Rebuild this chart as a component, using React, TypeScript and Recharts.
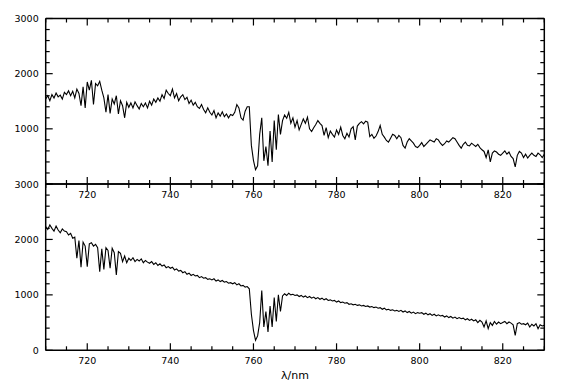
import { LineChart, Line, XAxis, YAxis } from "recharts";

// wavelength grid of the spectra, 0.5 nm steps from 710 to 830 nm
const wavelengths: number[] = Array.from({ length: 241 }, (_, i) => 710 + i * 0.5);

// upper panel flux
const topFlux = [
  1540, 1600, 1510, 1620, 1560, 1650, 1580, 1610, 1540, 1660,
  1620, 1690, 1600, 1680, 1560, 1720, 1640, 1420, 1760, 1380,
  1850, 1700, 1880, 1440, 1820, 1780, 1860, 1700, 1560, 1300,
  1620, 1280, 1540, 1450, 1600, 1270, 1510, 1420, 1200, 1480,
  1390, 1470, 1380, 1490, 1420, 1360, 1460, 1400, 1470, 1380,
  1500, 1430, 1540, 1480, 1560, 1500, 1620, 1550, 1700, 1640,
  1600, 1720, 1560, 1640, 1510, 1580, 1620, 1530, 1570, 1460,
  1520, 1430, 1480, 1400, 1370, 1440, 1350, 1290, 1380, 1300,
  1250, 1330, 1200, 1290, 1230, 1310, 1220, 1270, 1200, 1260,
  1240, 1300, 1440, 1380, 1200, 1160, 1320, 1400, 1400, 700,
  430, 260, 330, 900, 1200, 420, 680, 330, 960, 400,
  1150, 620, 1260, 900, 1150, 1250, 1190, 1300, 1100, 1200,
  1030, 1150, 980, 1080, 1180, 1100, 1210, 1000, 950, 1020,
  1080, 1150, 1100, 1060, 880, 1020, 840, 960, 900, 850,
  980, 900, 1030, 880, 820, 920, 850, 1000, 1040, 800,
  1050, 1100, 1130, 1090, 1140, 1120, 860, 900, 830, 870,
  950, 1060, 900, 850, 790, 760, 830, 900, 880, 820,
  880, 840, 700, 650, 760, 820, 780, 740, 680, 660,
  700, 750, 680, 720, 760, 800, 780, 760, 820, 800,
  740, 700, 730, 780, 760, 800, 840, 820, 760, 700,
  650, 720, 760, 700, 690, 740, 710, 680, 720, 660,
  620, 590, 480, 620, 400, 560, 600, 580, 540, 520,
  560, 600, 540, 580, 500, 460, 310, 520, 590, 560,
  480, 540, 470, 520, 560, 520, 500, 560, 530, 480,
  540,
];

// lower panel flux
const bottomFlux = [
  2230, 2180, 2260, 2200, 2150, 2240, 2170, 2120, 2190, 2150,
  2140, 2080, 2110, 2020, 2040, 1660, 1980, 1500, 1950, 1880,
  1510, 1920, 1940, 1880, 1910, 1850, 1420, 1830, 1460, 1850,
  1800, 1480, 1840, 1760, 1360, 1780, 1750, 1600, 1700, 1580,
  1660, 1620, 1670, 1600, 1640, 1610, 1650, 1580, 1620, 1590,
  1570, 1600, 1550, 1580, 1530, 1560, 1520, 1540, 1490, 1510,
  1480, 1500, 1450, 1470, 1430, 1440, 1400, 1420, 1370, 1390,
  1350, 1370, 1340, 1350, 1310, 1330, 1300, 1310, 1280, 1290,
  1270, 1290, 1250, 1270, 1240, 1260, 1230, 1240, 1210, 1220,
  1200, 1220, 1180, 1200, 1160, 1170, 1140, 1150, 1110, 650,
  360, 180, 260, 500, 1080, 420, 700, 330, 800, 420,
  950, 520, 1000, 700, 980, 1020, 990, 1030, 1000, 1010,
  990, 1000, 970, 990, 960, 980, 950, 970, 940, 960,
  930, 950, 920, 940, 910, 930, 900, 910, 890, 900,
  870, 890, 860, 870, 850, 860, 830, 840, 820, 830,
  810, 820, 800, 810, 790, 800, 780, 790, 770, 780,
  760, 770, 740, 760, 730, 740, 720, 730, 710, 720,
  700, 720, 690, 710, 680, 700, 670, 690, 660, 680,
  670, 680, 650, 670, 640, 660, 630, 650, 620, 640,
  620, 630, 600, 620, 590, 610, 580, 600, 570, 590,
  570, 580, 550, 570, 540, 560, 530, 550, 500, 540,
  510, 420, 530, 390, 500, 450, 520, 470, 510, 480,
  500, 520, 480, 510, 490, 460, 270, 480, 500, 470,
  480, 460, 490, 420, 470, 440, 480, 390, 460, 440,
  450,
];

const xTicks = [
  710, 715, 720, 725, 730, 735, 740, 745, 750, 755, 760, 765, 770,
  775, 780, 785, 790, 795, 800, 805, 810, 815, 820, 825, 830,
];
const yTicks = [0, 200, 400, 600, 800, 1000, 1200, 1400, 1600, 1800, 2000, 2200, 2400, 2600, 2800, 3000];

const data = wavelengths.map((nm, i) => ({ nm, top: topFlux[i], bottom: bottomFlux[i] }));

const W = 565;
const H = 386;
const LEFT = 45.7;
const RIGHT = 544.3;
const FONT = "DejaVu Sans";
const FS = 9.5;
const AX = 1; // axis thickness reserved by recharts

const makeXTick = (dir: 1 | -1, labelled: boolean) => (props: any) => {
  const { x, y, payload } = props;
  const major = payload.value % 20 === 0;
  const len = major ? 7 : 4;
  return (
    <g>
      <line x1={x} y1={y} x2={x} y2={y - dir * len} stroke="#000" strokeWidth={1.2} />
      {labelled && major && (
        <text x={x} y={y + 10} textAnchor="middle" dominantBaseline="central" fontSize={FS} fontFamily={FONT} fill="#000">
          {payload.value}
        </text>
      )}
    </g>
  );
};

// skipZero: the lower panel's 3000 label already sits where the upper panel's 0 would go
const makeYTick = (dir: 1 | -1, labelled: boolean, skipZero = false) => (props: any) => {
  const { x, y, payload } = props;
  const major = payload.value % 1000 === 0;
  const len = major ? 7 : 4;
  const showLabel = labelled && major && !(skipZero && payload.value === 0);
  return (
    <g>
      <line x1={x} y1={y} x2={x + dir * len} y2={y} stroke="#000" strokeWidth={1.2} />
      {showLabel && (
        <text x={x - 7} y={y} textAnchor="end" dominantBaseline="central" fontSize={FS} fontFamily={FONT} fill="#000">
          {payload.value}
        </text>
      )}
    </g>
  );
};

function Panel({ dataKey, top, bottom, xLabel }: { dataKey: string; top: number; bottom: number; xLabel?: boolean }) {
  return (
    <div style={{ position: "absolute", left: 0, top: 0 }}>
      <LineChart
        width={W}
        height={H}
        data={data}
        margin={{ top: top - AX, bottom: H - bottom - AX, left: LEFT - AX, right: W - RIGHT - AX }}
      >
        <XAxis
          xAxisId="b"
          dataKey="nm"
          type="number"
          domain={[710, 830]}
          allowDataOverflow
          ticks={xTicks}
          interval={0}
          height={AX}
          tickSize={0}
          tickMargin={0}
          axisLine={{ stroke: "#000", strokeWidth: 1.5 }}
          tick={makeXTick(1, true)}
          label={
            xLabel
              ? { value: "λ/nm", position: "bottom", offset: 20, fill: "#000", fontSize: 11, fontFamily: FONT }
              : undefined
          }
        />
        <XAxis
          xAxisId="t"
          orientation="top"
          dataKey="nm"
          type="number"
          domain={[710, 830]}
          allowDataOverflow
          ticks={xTicks}
          interval={0}
          height={AX}
          tickSize={0}
          tickMargin={0}
          axisLine={{ stroke: "#000", strokeWidth: 1.5 }}
          tick={makeXTick(-1, false)}
        />
        <YAxis
          yAxisId="l"
          type="number"
          domain={[0, 3000]}
          allowDataOverflow
          ticks={yTicks}
          interval={0}
          width={AX}
          tickSize={0}
          tickMargin={0}
          axisLine={{ stroke: "#000", strokeWidth: 1.5 }}
          tick={makeYTick(1, true, !xLabel)}
        />
        <YAxis
          yAxisId="r"
          orientation="right"
          type="number"
          domain={[0, 3000]}
          allowDataOverflow
          ticks={yTicks}
          interval={0}
          width={AX}
          tickSize={0}
          tickMargin={0}
          axisLine={{ stroke: "#000", strokeWidth: 1.5 }}
          tick={makeYTick(-1, false)}
        />
        <Line
          xAxisId="b"
          yAxisId="l"
          dataKey={dataKey}
          type="linear"
          stroke="#000"
          strokeWidth={1.1}
          dot={false}
          isAnimationActive={false}
        />
      </LineChart>
    </div>
  );
}

export default function App() {
  return (
    <div style={{ position: "absolute", left: 0, top: 0, width: W, height: H, background: "#fff" }}>
      <Panel dataKey="top" top={18.5} bottom={184} />
      <Panel dataKey="bottom" top={184} bottom={350.3} xLabel />
    </div>
  );
}
